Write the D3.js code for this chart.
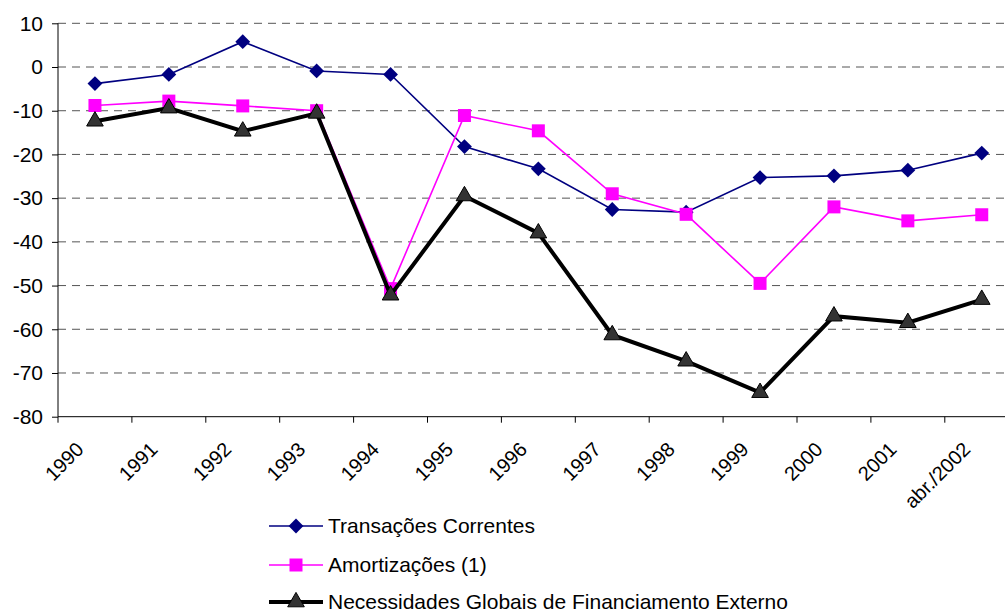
<!DOCTYPE html>
<html>
<head>
<meta charset="utf-8">
<script src="https://cdn.jsdelivr.net/npm/d3@7"></script>
<style>
  body { margin: 0; background: #fff; }
  svg { display: block; font-family: 'Liberation Sans', Arial, sans-serif; }
</style>
</head>
<body>
<div id="chart"></div>
<script>
const categories = ['1990', '1991', '1992', '1993', '1994', '1995', '1996', '1997', '1998', '1999', '2000', '2001', 'abr./2002'];
const transacoes = [-3.8, -1.7, 5.8, -0.9, -1.7, -18.2, -23.3, -32.6, -33.2, -25.3, -24.9, -23.6, -19.7];
const amortizacoes = [-8.8, -7.8, -8.9, -10.0, -50.7, -11.1, -14.6, -29.0, -33.7, -49.5, -32.0, -35.2, -33.8];
const necessidades = [-12.4, -9.4, -14.7, -10.6, -52.2, -29.5, -38.0, -61.3, -67.3, -74.5, -57.0, -58.5, -53.2];
const yTicks = [10, 0, -10, -20, -30, -40, -50, -60, -70, -80];

const width = 1005, height = 612;
const svg = d3.select('#chart').append('svg')
  .attr('width', width).attr('height', height);

const x = d3.scaleBand().domain(categories).range([58, 58 + 13 * 73.9]);
const y = d3.scaleLinear().domain([-80, 10]).range([416.7, 23.3]);

// Gridlines
svg.append('g')
  .selectAll('line')
  .data(yTicks.filter(d => d !== -80))
  .join('line')
  .attr('x1', 58).attr('x2', width)
  .attr('y1', d => y(d)).attr('y2', d => y(d))
  .attr('stroke', '#555')
  .attr('stroke-width', 1)
  .attr('stroke-dasharray', '8 6');

// Y axis
svg.append('g')
  .attr('transform', 'translate(58,0)')
  .call(d3.axisLeft(y).tickValues(yTicks).tickFormat(d => String(d)).tickSize(6).tickPadding(9))
  .call(g => g.select('.domain').attr('stroke', '#000').attr('d', `M0,${y(10)}V${y(-80)}`))
  .call(g => g.selectAll('.tick line').attr('stroke', '#000'))
  .call(g => g.selectAll('.tick text')
    .attr('fill', '#000')
    .attr('font-size', '21px')
    .attr('font-family', "'Liberation Sans', Arial, sans-serif"));

// X axis
const xAxis = svg.append('g').attr('transform', `translate(0,${y(-80)})`);
xAxis.append('line')
  .attr('x1', 58).attr('x2', width)
  .attr('stroke', '#000');
xAxis.selectAll('.tickmark')
  .data(categories)
  .join('line')
  .attr('class', 'tickmark')
  .attr('x1', d => x(d)).attr('x2', d => x(d))
  .attr('y1', 0).attr('y2', 6)
  .attr('stroke', '#000');
xAxis.selectAll('.label')
  .data(categories)
  .join('text')
  .attr('class', 'label')
  .attr('transform', d => `translate(${x(d) + x.bandwidth() / 2 - 20},${24}) rotate(-45)`)
  .attr('text-anchor', 'end')
  .attr('dy', '0.7em')
  .attr('font-size', '20px')
  .text(d => d);

const series = [
  { name: 'Transações Correntes', values: transacoes, color: '#000080', width: 1.6, symbol: 'diamond', fill: '#000080', stroke: 'none' },
  { name: 'Amortizações (1)', values: amortizacoes, color: '#FF00FF', width: 1.6, symbol: 'square', fill: '#FF00FF', stroke: 'none' },
  { name: 'Necessidades Globais de Financiamento Externo', values: necessidades, color: '#000', width: 4, symbol: 'triangle', fill: '#333', stroke: '#000' }
];

const symbolPath = s => {
  if (s === 'diamond') return d3.symbol(d3.symbolSquare, 110)();
  if (s === 'square') return d3.symbol(d3.symbolSquare, 169)();
  return d3.symbol(d3.symbolTriangle, 120)();
};
const symbolTransform = (s, cx, cy) =>
  s === 'diamond' ? `translate(${cx},${cy}) rotate(45)` : `translate(${cx},${cy})`;

const line = d3.line()
  .x((d, i) => x(categories[i]) + x.bandwidth() / 2)
  .y(d => y(d));

// black series drawn last so it sits on top
for (const s of series) {
  const g = svg.append('g');
  g.append('path')
    .datum(s.values)
    .attr('fill', 'none')
    .attr('stroke', s.color)
    .attr('stroke-width', s.width)
    .attr('d', line);
  g.selectAll('path.marker')
    .data(s.values)
    .join('path')
    .attr('class', 'marker')
    .attr('d', symbolPath(s.symbol))
    .attr('transform', (d, i) => symbolTransform(s.symbol, x(categories[i]) + x.bandwidth() / 2, y(d)))
    .attr('fill', s.fill)
    .attr('stroke', s.stroke)
    .attr('stroke-width', 1);
}

// Legend
const legend = svg.append('g');
const legendY = [526, 565, 602];
series.forEach((s, i) => {
  const row = legend.append('g').attr('transform', `translate(0,${legendY[i]})`);
  row.append('line')
    .attr('x1', 269).attr('x2', 323)
    .attr('stroke', s.color)
    .attr('stroke-width', s.width);
  row.append('path')
    .attr('d', symbolPath(s.symbol))
    .attr('transform', symbolTransform(s.symbol, 296, 0))
    .attr('fill', s.fill)
    .attr('stroke', s.stroke);
  row.append('text')
    .attr('x', 328)
    .attr('dy', '0.35em')
    .attr('font-size', '21px')
    .attr('fill', '#000')
    .text(s.name);
});
</script>
</body>
</html>
